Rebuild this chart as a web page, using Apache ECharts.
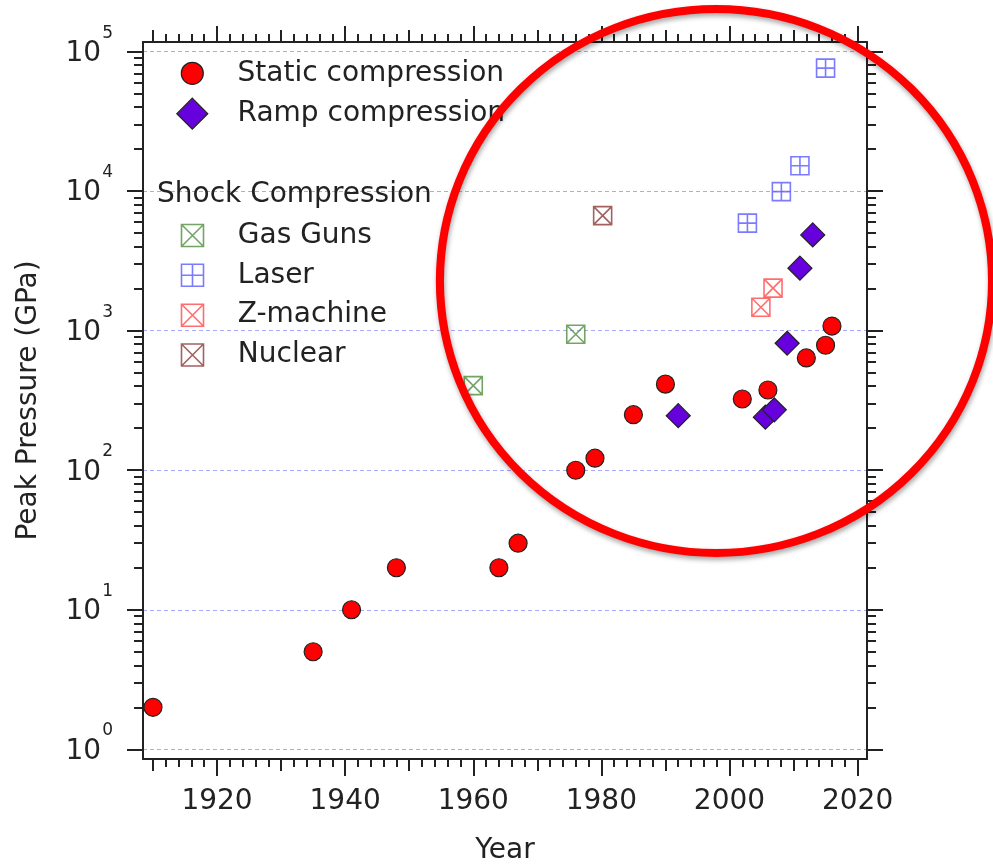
<!DOCTYPE html>
<html><head><meta charset="utf-8">
<script src="https://cdn.jsdelivr.net/npm/echarts@6/dist/echarts.min.js"></script>
<style>html,body{margin:0;padding:0;background:#fff}#c{width:993px;height:865px}</style>
</head><body><div id="c"></div>
<script>
const FONT = "'DejaVu Sans', sans-serif";
const TXT = '#222';

// ---- data ----
const staticYears    = [1910, 1935, 1941, 1948, 1964, 1967, 1976, 1979, 1985, 1990, 2002, 2006, 2012, 2015, 2016];
const staticPressure = [2, 5, 10, 20, 20, 30, 100, 122, 250, 414, 324, 376, 638, 787, 1080];
const rampYears      = [1992, 2005.6, 2007, 2009, 2011, 2013];
const rampPressure   = [246, 240, 271, 813, 2806, 4860];
const gasGunYears    = [1960, 1976];
const gasGunPressure = [404, 944];
const laserYears     = [2002.8, 2008.1, 2011, 2015];
const laserPressure  = [5900, 9930, 15200, 76200];
const zYears         = [2004.9, 2006.8];
const zPressure      = [1473, 2018];
const nuclearYears   = [1980.2];
const nuclearPressure= [6683];

// ---- ticks ----
const xMajorTicks = [1920, 1940, 1960, 1980, 2000, 2020];
const xMidTicks   = [1910, 1930, 1950, 1970, 1990, 2010];
const xMinorTicks = [];
for (let y = 1910; y <= 2020; y += 2) xMinorTicks.push(y);
const yMajorTicks = [1, 10, 100, 1000, 10000, 100000];
const yMinorTicks = [];
for (let d = 0; d <= 4; d++) for (let m = 2; m <= 9; m++) yMinorTicks.push(m * Math.pow(10, d));

const X_MIN = 1908.44, X_MAX = 2021.47;
const Y_MIN = 0.852, Y_MAX = 117300;

function pairs(xs, ys) { return xs.map((x, i) => [x, ys[i]]); }

const BOX_X = 'path://M0,0L20,0L20,20L0,20ZM0,0L20,20M20,0L0,20';
const BOX_PLUS = 'path://M0,0L20,0L20,20L0,20ZM10,0L10,20M0,10L20,10';

const COL = {
  stat: '#ff0000', ramp: '#6600dd', gas: '#4f8f3f', laser: '#5a5aff', z: '#ff4a4a', nuc: '#8a3a3a'
};

function xAx(pos, ticks, len, extra) {
  return Object.assign({
    type: 'value', gridIndex: 0, position: pos, min: X_MIN, max: X_MAX,
    axisLine: { show: false },
    axisTick: { show: true, inside: false, customValues: ticks, length: len, lineStyle: { color: TXT, width: 2 } },
    axisLabel: { show: false },
    splitLine: { show: false }
  }, extra || {});
}
function yAx(pos, ticks, len, extra) {
  return Object.assign({
    type: 'log', logBase: 10, gridIndex: 0, position: pos, min: Y_MIN, max: Y_MAX,
    axisLine: { show: false },
    axisTick: { show: true, inside: false, customValues: ticks, length: len, lineStyle: { color: TXT, width: 2 } },
    axisLabel: { show: false },
    splitLine: { show: false }
  }, extra || {});
}
const frameLine = { show: true, lineStyle: { color: TXT, width: 2 } };

const xAxes = [
  xAx('bottom', xMajorTicks, 17, {
    axisLine: frameLine,
    axisLabel: { show: true, customValues: xMajorTicks, margin: 29, fontSize: 28, fontFamily: FONT, color: TXT,
                 formatter: v => String(v) },
    name: 'Year', nameLocation: 'middle', nameGap: 78, nameMoveOverlap: false,
    nameTextStyle: { fontSize: 28, fontFamily: FONT, color: TXT }
  }),
  xAx('bottom', xMidTicks, 12),
  xAx('bottom', xMinorTicks, 8),
  xAx('top', xMajorTicks, 16, { axisLine: frameLine }),
  xAx('top', xMidTicks, 12),
  xAx('top', xMinorTicks, 8)
];
const yAxes = [
  yAx('left', yMajorTicks, 16, {
    axisLine: frameLine,
    axisLabel: {
      show: true, customValues: yMajorTicks, margin: 30,
      formatter: v => '{b|10}{s|' + Math.round(Math.log10(v)) + '}',
      rich: {
        b: { fontSize: 28, fontFamily: FONT, color: TXT, lineHeight: 32, verticalAlign: 'bottom' },
        s: { fontSize: 17, fontFamily: FONT, color: TXT, lineHeight: 17, verticalAlign: 'bottom', padding: [0, 0, 26, 1] }
      }
    },
    splitLine: { show: true, lineStyle: { color: '#a8a8ff', type: [4, 3], width: 1 } },
    name: 'Peak Pressure (GPa)', nameLocation: 'middle', nameGap: 100, nameRotate: 90, nameMoveOverlap: false,
    nameTextStyle: { fontSize: 28, fontFamily: FONT, color: TXT }
  }),
  yAx('left', yMinorTicks, 9),
  yAx('right', yMajorTicks, 16, { axisLine: frameLine }),
  yAx('right', yMinorTicks, 9)
];

function legendItem(name, cy, size, itemStyle) {
  const left = 191.7 - size / 2;
  const pad = 237 - 5 - left - size;
  const l = {
    data: [name], orient: 'vertical', left: left, top: cy - 20,
    itemWidth: size, itemHeight: size, itemGap: 0, padding: 0, selectedMode: false,
    textStyle: { fontSize: 28, fontFamily: FONT, color: TXT, lineHeight: 40, padding: [0, 0, 0, pad] }
  };
  if (itemStyle) l.itemStyle = itemStyle;
  return l;
}
function openStyle(c) { return { color: 'rgba(0,0,0,0)', borderColor: c, borderWidth: 1.6 }; }

const option = {
  animation: false,
  backgroundColor: '#fff',
  grid: { left: 143, right: 126, top: 42, bottom: 106, containLabel: false, outerBoundsMode: 'none' },
  title: {
    text: 'Shock Compression', left: 157, top: 175, padding: 0,
    textStyle: { fontSize: 28, fontFamily: FONT, color: TXT, fontWeight: 'normal', lineHeight: 40 }
  },
  legend: [
    legendItem('Static compression', 73.3, 22, { color: COL.stat, borderColor: '#222', borderWidth: 1.2 }),
    legendItem('Ramp compression', 113.7, 31, { color: COL.ramp, borderColor: '#222', borderWidth: 1.2 }),
    legendItem('Gas Guns', 235.5, 22, openStyle(COL.gas)),
    legendItem('Laser', 275.3, 22, openStyle(COL.laser)),
    legendItem('Z-machine', 315.2, 22, openStyle(COL.z)),
    legendItem('Nuclear', 355.0, 22, openStyle(COL.nuc))
  ],
  xAxis: xAxes,
  yAxis: yAxes,
  series: [
    { name: 'Gas Guns', type: 'scatter', data: pairs(gasGunYears, gasGunPressure), symbol: BOX_X, symbolSize: 18,
      itemStyle: openStyle(COL.gas) },
    { name: 'Laser', type: 'scatter', data: pairs(laserYears, laserPressure), symbol: BOX_PLUS, symbolSize: 18,
      itemStyle: openStyle(COL.laser) },
    { name: 'Z-machine', type: 'scatter', data: pairs(zYears, zPressure), symbol: BOX_X, symbolSize: 18,
      itemStyle: openStyle(COL.z) },
    { name: 'Nuclear', type: 'scatter', data: pairs(nuclearYears, nuclearPressure), symbol: BOX_X, symbolSize: 18,
      itemStyle: openStyle(COL.nuc) },
    { name: 'Static compression', type: 'scatter', data: pairs(staticYears, staticPressure), symbol: 'circle', symbolSize: 18,
      itemStyle: { color: COL.stat, borderColor: '#222', borderWidth: 1.2, opacity: 1 } },
    { name: 'Ramp compression', type: 'scatter', data: pairs(rampYears, rampPressure), symbol: 'diamond', symbolSize: 24,
      itemStyle: { color: COL.ramp, borderColor: '#222', borderWidth: 1.2, opacity: 1 } }
  ],
  graphic: [{
    type: 'circle', silent: true, z: 100,
    x: 716, y: 281, scaleX: 1.015, scaleY: 1,
    shape: { cx: 0, cy: 0, r: 272 },
    style: { fill: 'none', stroke: '#ff0000', lineWidth: 8, shadowBlur: 5, shadowColor: 'rgba(0,0,0,0.35)', shadowOffsetX: 1, shadowOffsetY: 3 }
  }]
};

const chart = echarts.init(document.getElementById('c'), null, { renderer: 'canvas' });
chart.setOption(option);
</script>
</body></html>
